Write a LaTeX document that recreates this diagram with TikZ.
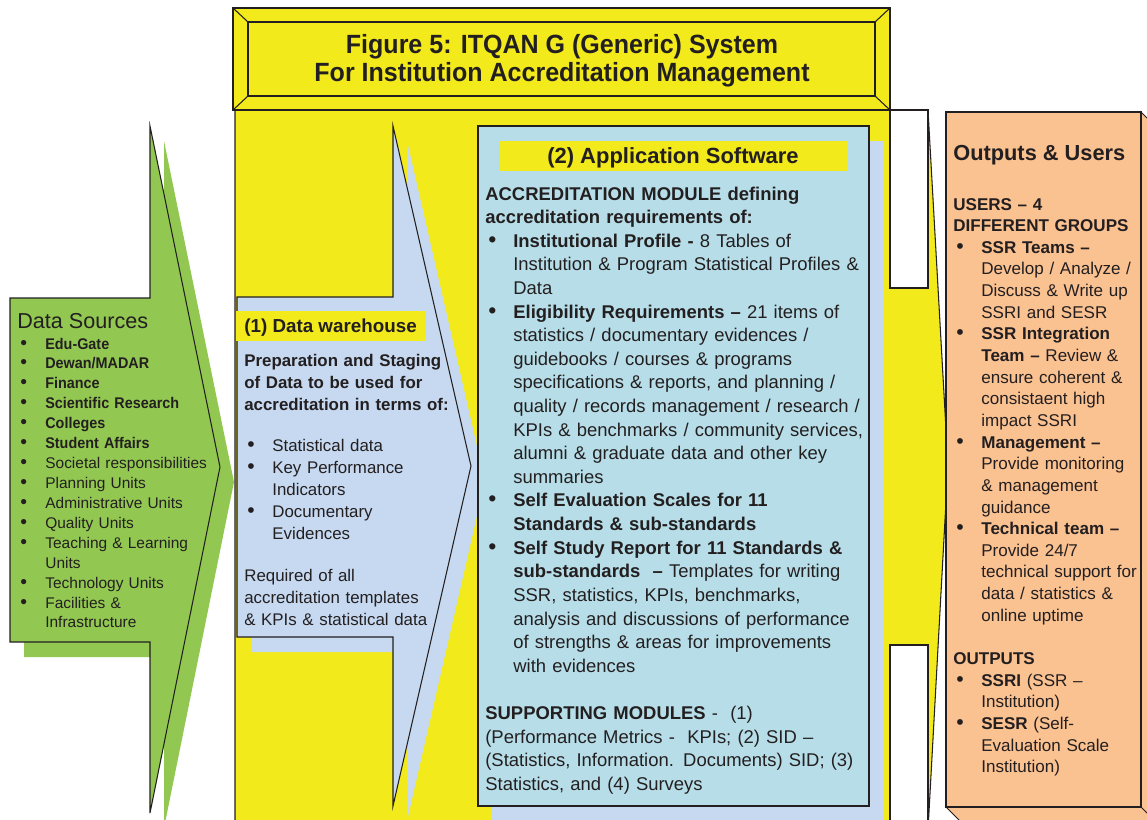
\documentclass[tikz,border=0pt]{standalone}
\usepackage{fontspec}
\setmainfont{Liberation Sans}
\newfontfamily\titlefont[FakeStretch=0.95]{Liberation Sans}
\newfontfamily\condfont[FakeStretch=0.93]{Liberation Sans}
\definecolor{ink}{HTML}{231F20}
\definecolor{itqyellow}{HTML}{F2EA1B}
\definecolor{srcgreen}{HTML}{92C851}
\definecolor{dwblue}{HTML}{C6D9F0}
\definecolor{appblue}{HTML}{B7DEE8}
\definecolor{outorange}{HTML}{FAC191}
\newcommand{\bitem}[1]{\hangindent=0.56cm\hangafter=1\noindent\makebox[0.56cm][l]{\hspace{0.06cm}\scalebox{1.25}{\textbullet}}{#1}\par}
\tikzset{
	body/.style={anchor=base west, inner sep=0pt, align=left, text=ink},
	band/.style={fill=itqyellow},
	rim/.style={draw=ink, line width=0.6pt},
}
\begin{document}
\begin{tikzpicture}[x=0.02cm, y=-0.02cm]
		\useasboundingbox (0,0) rectangle (1147,819);
		\clip (0,0) rectangle (1147,819);
		\fill[white] (0,0) rectangle (1147,819);
		% yellow system arrow
		\draw[rim, fill=itqyellow] (235,110) -- (928,110) -- (948,465) -- (928,830) -- (235,830) -- cycle;
		\draw[rim, fill=white] (890,110) rectangle (928,288);
		\draw[rim, fill=white] (890,645) rectangle (928,830);
		\draw[rim, fill=itqyellow] (233,8) rectangle (890,110);
		\draw[rim] (248,22) rectangle (875,96);
		\draw[rim] (233,8) -- (248,22) (890,8) -- (875,22) (233,110) -- (248,96) (890,110) -- (875,96);
		\node[align=center, text=ink, font=\titlefont\bfseries\fontsize{15}{15.9}\selectfont] (title) at (562,61) {Figure 5: ITQAN G (Generic) System\\For Institution Accreditation Management};
		% data sources
		\fill[srcgreen, shift={(14,15)}] (10,298) -- (150,298) -- (150,126) -- (220,467) -- (150,813) -- (150,642) -- (10,642) -- cycle;
		\draw[rim, fill=srcgreen] (10,298) -- (150,298) -- (150,126) -- (220,467) -- (150,813) -- (150,642) -- (10,642) -- cycle;
		\node[body, font=\fontsize{12.3}{14}\selectfont] (srchead) at (17,328) {Data Sources};
		\node[body, text width=5cm, font=\fontsize{8.8}{11.34}\selectfont] (srclist) at (17,349) {
			\bitem{\condfont\bfseries Edu-Gate}
			\bitem{\condfont\bfseries Dewan/MADAR}
			\bitem{\condfont\bfseries Finance}
			\bitem{\condfont\bfseries Scientific Research}
			\bitem{\condfont\bfseries Colleges}
			\bitem{\condfont\bfseries Student Affairs}
			\bitem{Societal responsibilities}
			\bitem{Planning Units}
			\bitem{Administrative Units}
			\bitem{Quality Units}
			\bitem{Teaching \& Learning\newline Units}
			\bitem{Technology Units}
			\bitem{Facilities \&\newline Infrastructure}
		};
		% data warehouse
		\fill[dwblue, shift={(14,15)}] (237,297) -- (393,297) -- (393,126) -- (471,466) -- (393,806) -- (393,637) -- (237,637) -- cycle;
		\draw[rim, fill=dwblue] (237,297) -- (393,297) -- (393,126) -- (471,466) -- (393,806) -- (393,637) -- (237,637) -- cycle;
		\fill[band] (236,311) rectangle (426,341);
		\node[body, font=\bfseries\fontsize{10.7}{12}\selectfont] (dwhead) at (244,332) {(1) Data warehouse};
		\node[body, text width=5cm, font=\fontsize{9.6}{12.6}\selectfont] (dwtext) at (244,366) {
			\textbf{Preparation and Staging\newline of Data to be used for\newline accreditation in terms of:}\par
			\vspace{0.38cm}
			\bitem{Statistical data}
			\bitem{Key Performance\newline Indicators}
			\bitem{Documentary\newline Evidences}
			\vspace{0.38cm}
			Required of all\newline accreditation templates\newline \& KPIs \& statistical data
		};
		% application software
		\fill[dwblue] (492,141) rectangle (883,830);
		\draw[rim, fill=appblue] (478,126) rectangle (869,806);
		\fill[band] (500,141) rectangle (848,171);
		\node[body, anchor=base, font=\bfseries\fontsize{12.5}{14}\selectfont] (apphead) at (673,163) {(2) Application Software};
		\node[body, text width=9cm, font=\fontsize{10.5}{13.44}\selectfont] (apptext) at (485,200) {
			\textbf{ACCREDITATION MODULE defining\newline accreditation requirements of:}\par
			\bitem{\textbf{Institutional Profile -} 8 Tables of\newline Institution \& Program Statistical Profiles \&\newline Data}
			\bitem{\textbf{Eligibility Requirements –} 21 items of\newline statistics / documentary evidences /\newline guidebooks / courses \& programs\newline specifications \& reports, and planning /\newline quality / records management / research /\newline KPIs \& benchmarks / community services,\newline alumni \& graduate data and other key\newline summaries}
			\bitem{\textbf{Self Evaluation Scales for 11\newline Standards \& sub-standards}}
			\bitem{\textbf{Self Study Report for 11 Standards \&\newline sub-standards\ \ –} Templates for writing\newline SSR, statistics, KPIs, benchmarks,\newline analysis and discussions of performance\newline of strengths \& areas for improvements\newline with evidences}
			\vspace{\baselineskip}
			\textbf{SUPPORTING MODULES} -\ \ (1)\newline (Performance Metrics -\ \ KPIs; (2) SID –\newline (Statistics, Information. Documents) SID; (3)\newline Statistics, and (4) Surveys
		};
		% outputs and users
		\draw[rim, fill=outorange] (1141,112) -- (1155,126) -- (1155,830) -- (1141,807) -- cycle;
		\draw[rim, fill=outorange] (946,807) -- (960,821) -- (1155,821) -- (1141,807) -- cycle;
		\draw[rim, fill=outorange] (946,112) rectangle (1141,807);
		\node[body, font=\bfseries\fontsize{12.4}{14}\selectfont] (outhead) at (953,160) {Outputs \& Users};
		\node[body, text width=5cm, font=\fontsize{9.7}{12.32}\selectfont] (outtext) at (953,210) {
			\textbf{USERS – 4\newline DIFFERENT GROUPS}\par
			\bitem{\textbf{SSR Teams –}\newline Develop / Analyze /\newline Discuss \& Write up\newline SSRI and SESR}
			\bitem{\textbf{SSR Integration\newline Team –} Review \&\newline ensure coherent \&\newline consistaent high\newline impact SSRI}
			\bitem{\textbf{Management –}\newline Provide monitoring\newline \& management\newline guidance}
			\bitem{\textbf{Technical team –}\newline Provide 24/7\newline technical support for\newline data / statistics \&\newline online uptime}
			\vspace{\baselineskip}
			\textbf{OUTPUTS}\par
			\bitem{\textbf{SSRI} (SSR –\newline Institution)}
			\bitem{\textbf{SESR} (Self-\newline Evaluation Scale\newline Institution)}
		};
	\end{tikzpicture}
\end{document}
